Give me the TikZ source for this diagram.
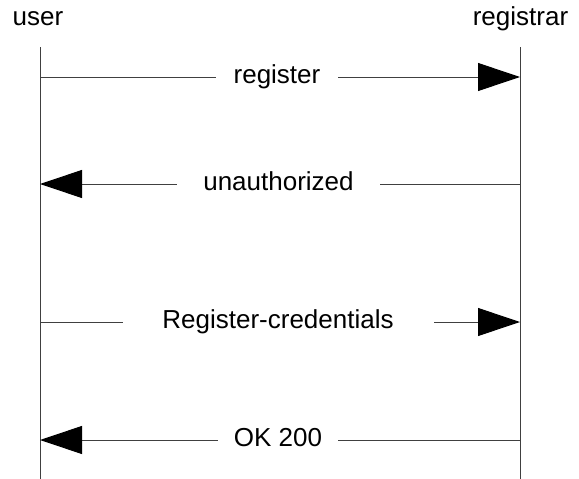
\documentclass[tikz,border=0pt]{standalone}
\usepackage{fontspec}
\setmainfont{Liberation Sans}
\usetikzlibrary{arrows.meta}
\begin{document}
\begin{tikzpicture}[x=1pt,y=-1pt,
  every node/.style={font=\fontsize{26}{30}\selectfont},
  lifeline/.style={line width=1pt, draw=black!75},
  msg/.style={line width=1pt, draw=black!75, -{Triangle[length=42pt,width=28pt,black]}},
  msglabel/.style={fill=white, inner xsep=0pt, inner ysep=1pt, text height=13.5pt, text depth=0pt}
]
\useasboundingbox (0,0) rectangle (579,479);

% participants
\node[anchor=base] (user) at (38,26) {user};
\node[anchor=base] (registrar) at (520.5,26) {registrar};

% lifelines
\coordinate (ut) at (40,47);
\coordinate (ub) at (40,479);
\coordinate (rt) at (520,47);
\coordinate (rb) at (520,479);
\draw[lifeline] (ut) -- (ub);
\draw[lifeline] (rt) -- (rb);

% message end points
\coordinate (m1u) at (40,77);   \coordinate (m1r) at (520,77);
\coordinate (m2u) at (40,184);  \coordinate (m2r) at (520,184);
\coordinate (m3u) at (40,322);  \coordinate (m3r) at (520,322);
\coordinate (m4u) at (40,440);  \coordinate (m4r) at (520,440);

% messages
\draw[msg] (m1u) -- (m1r);
\draw[msg] (m2r) -- (m2u);
\draw[msg] (m3u) -- (m3r);
\draw[msg] (m4r) -- (m4u);

% message labels
\node[msglabel, minimum width=122pt] (l1) at (277,77) {register};
\node[msglabel, minimum width=203pt] (l2) at (278.5,184) {unauthorized};
\node[msglabel, minimum width=311pt] (l3) at (278,322) {Register-credentials};
\node[msglabel, minimum width=120pt] (l4) at (278,440) {OK 200};
\end{tikzpicture}
\end{document}
